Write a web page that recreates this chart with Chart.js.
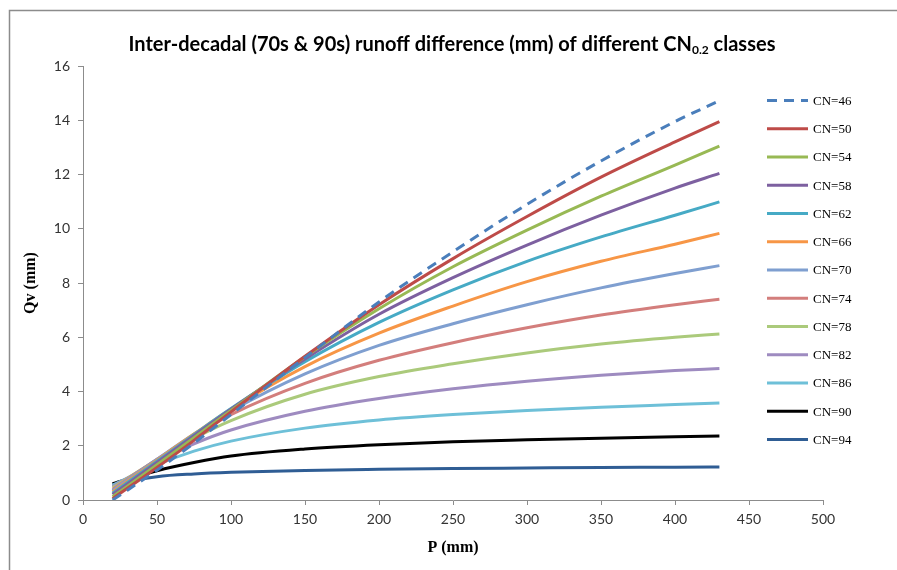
<!DOCTYPE html>
<html>
<head>
<meta charset="utf-8">
<script src="https://cdn.jsdelivr.net/npm/chart.js@4.4.0/dist/chart.umd.min.js"></script>
<style>
  html, body { margin: 0; padding: 0; background: #fff; }
  #wrap { width: 897px; height: 570px; position: relative; }
</style>
</head>
<body>
<div id="wrap"><canvas id="chart" width="897" height="570"></canvas></div>
<script>
const pValues = [20, 50, 75, 100, 150, 200, 250, 300, 350, 400, 430];

// runoff difference Qv (mm), one array per CN class
const cn46 = [0, 1.1, 2.1, 3.15, 5.25, 7.3, 9.15, 10.9, 12.5, 13.95, 14.72];
const cn50 = [0.05, 1.2, 2.2, 3.25, 5.3, 7.2, 8.9, 10.45, 11.9, 13.2, 13.95];
const cn54 = [0.12, 1.3, 2.3, 3.3, 5.28, 7.05, 8.6, 9.95, 11.2, 12.35, 13.05];
const cn58 = [0.2, 1.38, 2.37, 3.35, 5.2, 6.85, 8.2, 9.4, 10.5, 11.5, 12.04];
const cn62 = [0.25, 1.43, 2.41, 3.37, 5.1, 6.55, 7.75, 8.8, 9.7, 10.5, 10.99];
const cn66 = [0.3, 1.47, 2.43, 3.35, 4.92, 6.15, 7.15, 8.05, 8.8, 9.43, 9.83];
const cn70 = [0.35, 1.5, 2.43, 3.28, 4.65, 5.7, 6.5, 7.2, 7.82, 8.35, 8.64];
const cn74 = [0.4, 1.5, 2.38, 3.15, 4.3, 5.15, 5.8, 6.35, 6.82, 7.2, 7.4];
const cn78 = [0.45, 1.48, 2.27, 2.93, 3.9, 4.55, 5.02, 5.42, 5.75, 6.0, 6.12];
const cn82 = [0.5, 1.42, 2.07, 2.58, 3.27, 3.74, 4.1, 4.38, 4.6, 4.77, 4.85];
const cn86 = [0.55, 1.3, 1.8, 2.17, 2.65, 2.95, 3.15, 3.3, 3.42, 3.52, 3.58];
const cn90 = [0.6, 1.08, 1.38, 1.62, 1.88, 2.04, 2.15, 2.22, 2.28, 2.33, 2.36];
const cn94 = [0.58, 0.86, 0.96, 1.02, 1.09, 1.13, 1.16, 1.18, 1.2, 1.21, 1.22];

const seriesNames = ['CN=46', 'CN=50', 'CN=54', 'CN=58', 'CN=62', 'CN=66', 'CN=70',
                     'CN=74', 'CN=78', 'CN=82', 'CN=86', 'CN=90', 'CN=94'];
const seriesValues = [cn46, cn50, cn54, cn58, cn62, cn66, cn70, cn74, cn78, cn82, cn86, cn90, cn94];
const seriesColors = ['#4A7EBB', '#BE4B48', '#98B954', '#7D60A0', '#46AAC5', '#F79646', '#7F9FD0',
                      '#D37E7C', '#ABCA7B', '#9E8BC0', '#6EC0D8', '#000000', '#2F5D94'];

const titleMain = 'Inter-decadal (70s & 90s) runoff difference (mm) of different CN';
const titleSub = '0.2';
const titleTail = ' classes';
const xTitle = 'P (mm)';
const yTitle = 'Qv (mm)';

const datasets = seriesNames.map(function (name, i) {
    return {
        label: name,
        data: pValues.map(function (p, j) { return { x: p, y: seriesValues[i][j] }; }),
        borderColor: seriesColors[i],
        borderWidth: 3,
        borderDash: i === 0 ? [10, 7] : [],
        pointRadius: 0,
        fill: false,
        cubicInterpolationMode: 'monotone'
    };
});

// frame, title, axis titles and the legend are drawn by hand (Excel look)
const decor = {
    id: 'decor',
    beforeDraw: function (chart) {
        const ctx = chart.ctx;
        ctx.save();
        ctx.fillStyle = '#fff';
        ctx.fillRect(0, 0, chart.width, chart.height);
        ctx.strokeStyle = '#8c8c8c';
        ctx.lineWidth = 1.5;
        ctx.beginPath();
        ctx.moveTo(9.5, chart.height);
        ctx.lineTo(9.5, 10.5);
        ctx.lineTo(chart.width, 10.5);
        ctx.stroke();
        ctx.restore();
    },
    afterDraw: function (chart) {
        const ctx = chart.ctx;
        const area = chart.chartArea;
        ctx.save();
        ctx.fillStyle = '#000';

        // title with the subscript
        const big = 'bold 20px Lato';
        const small = 'bold 12px Lato';
        ctx.font = big;
        const w1 = ctx.measureText(titleMain).width;
        const w3 = ctx.measureText(titleTail).width;
        ctx.font = small;
        const w2 = ctx.measureText(titleSub).width;
        let x = 452 - (w1 + w2 + w3) / 2;
        const base = 51;
        ctx.textBaseline = 'alphabetic';
        ctx.textAlign = 'left';
        ctx.font = big;
        ctx.fillText(titleMain, x, base);
        x += w1;
        ctx.font = small;
        ctx.fillText(titleSub, x, base + 3);
        x += w2;
        ctx.font = big;
        ctx.fillText(titleTail, x, base);

        // axis titles
        ctx.font = 'bold 16px "Liberation Serif"';
        ctx.textAlign = 'center';
        ctx.textBaseline = 'middle';
        ctx.fillText(xTitle, (area.left + area.right) / 2, 548);
        ctx.save();
        ctx.translate(31, (area.top + area.bottom) / 2);
        ctx.rotate(-Math.PI / 2);
        ctx.fillText(yTitle, 0, 0);
        ctx.restore();

        // legend
        ctx.font = '13px "Liberation Serif"';
        ctx.textAlign = 'left';
        chart.data.datasets.forEach(function (ds, i) {
            const y = 100.5 + i * 28.25;
            ctx.beginPath();
            ctx.setLineDash(ds.borderDash);
            ctx.strokeStyle = ds.borderColor;
            ctx.lineWidth = 3;
            ctx.moveTo(767, y);
            ctx.lineTo(808, y);
            ctx.stroke();
            ctx.setLineDash([]);
            ctx.fillStyle = '#000';
            ctx.fillText(ds.label, 813, y + 1);
        });
        ctx.restore();
    }
};

const ctx = document.getElementById('chart').getContext('2d');
const chart = new Chart(ctx, {
    type: 'line',
    data: { datasets: datasets },
    options: {
        responsive: false,
        animation: false,
        layout: { padding: { left: 0, right: 74, top: 66, bottom: 0 } },
        plugins: {
            legend: { display: false },
            title: { display: false },
            tooltip: { enabled: false }
        },
        scales: {
            x: {
                type: 'linear',
                min: 0,
                max: 500,
                afterFit: function (scale) { scale.height = 70; },
                ticks: { stepSize: 50, color: '#333', font: { family: 'Lato', size: 14 }, padding: 6, maxRotation: 0 },
                grid: { drawOnChartArea: false, drawTicks: true, tickLength: 5, color: '#8c8c8c' },
                border: { color: '#8c8c8c', width: 1 }
            },
            y: {
                min: 0,
                max: 16,
                afterFit: function (scale) { scale.width = 83; },
                ticks: { stepSize: 2, color: '#333', font: { family: 'Lato', size: 14 }, padding: 8 },
                grid: { drawOnChartArea: false, drawTicks: true, tickLength: 5, color: '#8c8c8c' },
                border: { color: '#8c8c8c', width: 1 }
            }
        }
    },
    plugins: [decor]
});
</script>
</body>
</html>
